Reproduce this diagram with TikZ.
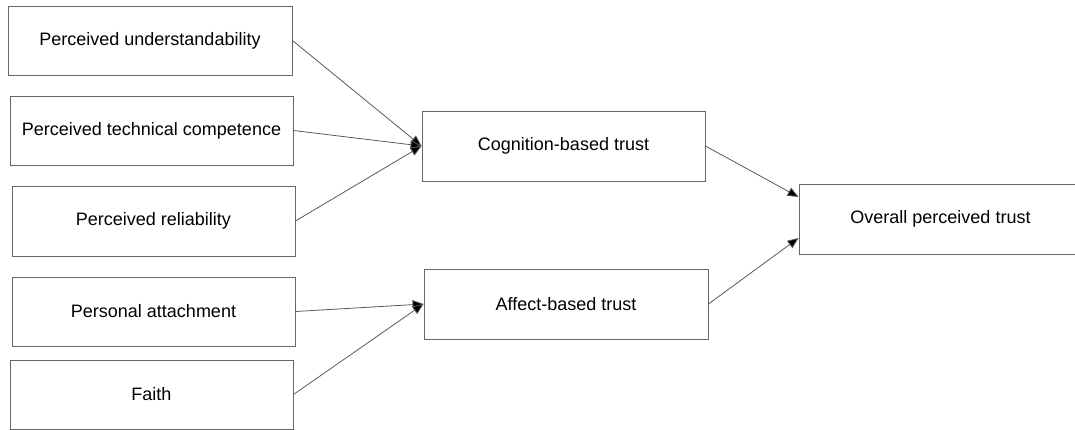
\documentclass[tikz,border=0pt]{standalone}
\usepackage{fontspec}
\setmainfont{Liberation Sans}
\usetikzlibrary{arrows.meta}

\begin{document}
\begin{tikzpicture}[
  x=1pt, y=-1pt,
  box/.style={rectangle, draw=black!60, line width=0.9pt, minimum width=283pt, minimum height=69pt,
    inner sep=0pt, font=\fontsize{18}{22}\selectfont},
  edge/.style={draw=black!65, line width=0.8pt, -{Triangle[length=11pt,width=9pt,fill=black]}}
]
  \useasboundingbox (0,0) rectangle (1075,429);

  % Antecedentes
  \node[box, minimum width=284pt] (und) at (150,40.5) {Perceived understandability};
  \node[box] (tec) at (151.5,130.5) {Perceived technical competence};
  \node[box, minimum height=70pt] (rel) at (153.5,221) {Perceived reliability};
  \node[box] (att) at (153.5,311.5) {Personal attachment};
  \node[box] (fai) at (151.5,394.5) {Faith};

  % Dimensiones de confianza
  \node[box, minimum height=70pt] (cog) at (563.5,146) {Cognition-based trust};
  \node[box, minimum width=284pt, minimum height=70pt] (aff) at (566,304) {Affect-based trust};
  \node[box, minimum height=70pt] (ovr) at (940.5,219) {Overall perceived trust};

  % Aristas
  \draw[edge] (und.east) -- (cog.west);
  \draw[edge] (tec.east) -- (cog.west);
  \draw[edge] (rel.east) -- (cog.west);
  \draw[edge] (att.east) -- (aff.west);
  \draw[edge] (fai.east) -- (aff.west);
  \draw[edge] (cog.east) -- ([yshift=22pt]ovr.west);
  \draw[edge] (aff.east) -- ([yshift=-19pt]ovr.west);
\end{tikzpicture}
\end{document}
